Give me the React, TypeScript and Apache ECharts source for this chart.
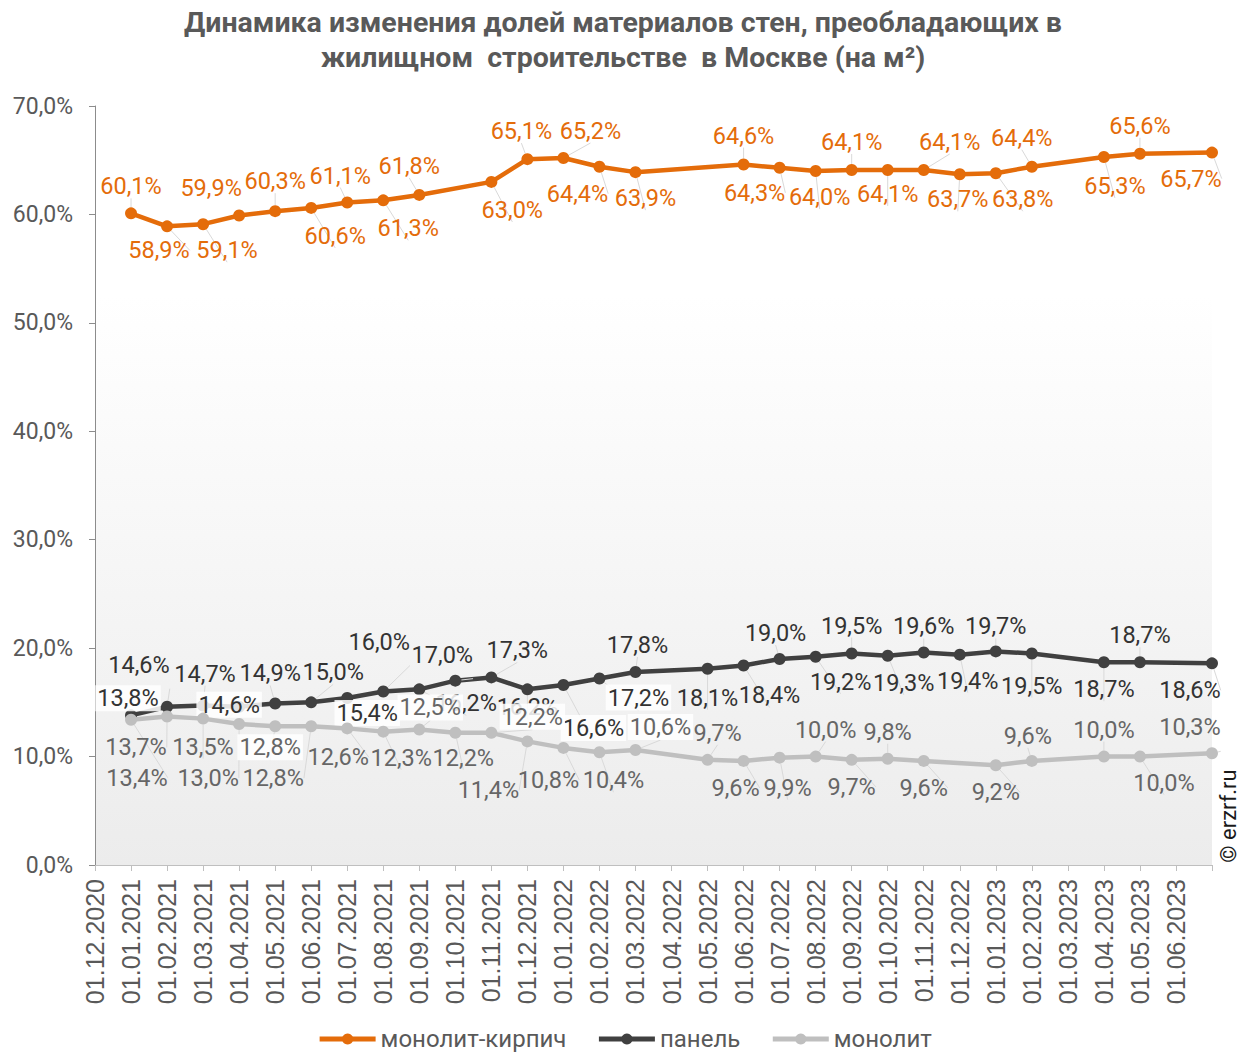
import React, { useEffect, useRef } from 'react';
import * as echarts from 'echarts';

const categories = [
  '01.12.2020', '01.01.2021', '01.02.2021', '01.03.2021', '01.04.2021', '01.05.2021', '01.06.2021',
  '01.07.2021', '01.08.2021', '01.09.2021', '01.10.2021', '01.11.2021', '01.12.2021', '01.01.2022',
  '01.02.2022', '01.03.2022', '01.04.2022', '01.05.2022', '01.06.2022', '01.07.2022', '01.08.2022',
  '01.09.2022', '01.10.2022', '01.11.2022', '01.12.2022', '01.01.2023', '01.02.2023', '01.03.2023',
  '01.04.2023', '01.05.2023', '01.06.2023', '01.07.2023',
];

const seriesNames = ['монолит-кирпич', 'панель', 'монолит'];

const monolitBrick = [
  null, 60.1, 58.9, 59.1, 59.9, 60.3, 60.6, 61.1, 61.3, 61.8, null, 63.0, 65.1, 65.2, 64.4, 63.9,
  null, null, 64.6, 64.3, 64.0, 64.1, 64.1, 64.1, 63.7, 63.8, 64.4, null, 65.3, 65.6, null, 65.7,
];

const panel = [
  null, 13.8, 14.6, 14.7, 14.6, 14.9, 15.0, 15.4, 16.0, 16.2, 17.0, 17.3, 16.2, 16.6, 17.2, 17.8,
  null, 18.1, 18.4, 19.0, 19.2, 19.5, 19.3, 19.6, 19.4, 19.7, 19.5, null, 18.7, 18.7, null, 18.6,
];

const monolit = [
  null, 13.4, 13.7, 13.5, 13.0, 12.8, 12.8, 12.6, 12.3, 12.5, 12.2, 12.2, 11.4, 10.8, 10.4, 10.6,
  null, 9.7, 9.6, 9.9, 10.0, 9.7, 9.8, 9.6, null, 9.2, 9.6, null, 10.0, 10.0, null, 10.3,
];

// label placement (pixel offsets from each point), kept apart from the data
const brickLabelOffsets: (number[] | null)[] = [
  null, [0, -27], [-8, 24], [24, 26], [-28, -28], [0, -30], [24, 28], [-7, -27], [25, 28], [-10, -29],
  null, [21, 28], [-6, -28], [27, -27], [-22, 27], [10, 26], null, null, [0, -29], [-25, 25], [4, 26],
  [0, -28], [0, 24], [26, -28], [-2, 25], [27, 26], [-10, -29], null, [11, 29], [0, -28], null, [-21, 26],
];
const panelLabelOffsets: (number[] | null)[] = [
  null, [-3, -17], [-28, -42], [2, -32], [-10, -2], [-5, -30], [22, -30], [20, 15], [-4, -50], [47, 14],
  [-13, -26], [26, -27], [0, 18], [30, 43], [39, 19], [2, -27], null, [0, 29], [26, 30], [-4, -26],
  [25, 25], [0, -28], [16, 27], [0, -26], [8, 26], [0, -25], [0, 32], null, [0, 27], [0, -27], null, [-22, 27],
];
const monolitLabelOffsets: (number[] | null)[] = [
  null, [6, 58], [-31, 31], [0, 28], [-31, 54], [-5, 21], [-38, 52], [-9, 29], [18, 26], [11, -22],
  [8, 25], [41, -16], [-39, 49], [-15, 32], [14, 28], [25, -23], null, [10, -27], [-8, 27], [8, 30],
  [10, -27], [0, 27], [0, -27], [0, 27], null, [0, 27], [-4, -25], null, [0, -27], [24, 26], null, [-22, -26],
];
const panelBoxed = [1, 4, 7, 13, 14];
const monolitBoxed = [5, 9, 11, 15];

const ORANGE = '#E46C0A';
const DARK = '#404040';
const GREY = '#BFBFBF';

const fmt = (v: number) => v.toFixed(1).replace('.', ',') + '%';

function buildData(values: (number | null)[], offsets: (number[] | null)[], boxed: number[]) {
  return values.map((v, i) => {
    if (v == null) return null;
    const label: any = { offset: offsets[i] || [0, -26] };
    if (boxed.indexOf(i) >= 0) {
      label.backgroundColor = 'rgba(255,255,255,0.85)';
      label.padding = [1, 2];
    }
    return { value: v, label };
  });
}

function makeSeries(name: string, values: (number | null)[], offsets: (number[] | null)[], boxed: number[], color: string, labelColor: string, z: number) {
  return {
    name,
    type: 'line',
    data: buildData(values, offsets, boxed),
    connectNulls: true,
    symbol: 'circle',
    symbolSize: 12,
    z,
    lineStyle: { color, width: 4.5 },
    itemStyle: { color },
    label: {
      show: true,
      position: 'inside',
      formatter: (p: any) => fmt(p.value),
      color: labelColor,
      fontSize: 23.5,
      fontFamily: 'Roboto',
      textBorderWidth: 0,
      textBorderColor: 'transparent',
    },
    labelLine: { show: true, lineStyle: { color: '#d9d9d9', width: 1 } },
    emphasis: { disabled: true },
  };
}

export default function App() {
  const ref = useRef<HTMLDivElement>(null);
  useEffect(() => {
    if (!ref.current) return;
    const chart = echarts.init(ref.current, undefined, { renderer: 'svg' });
    chart.setOption({
      animation: false,
      backgroundColor: '#ffffff',
      title: {
        text: 'Динамика изменения долей материалов стен, преобладающих в\nжилищном  строительстве  в Москве (на м²)',
        left: 618,
        textAlign: 'center',
        top: 0,
        padding: [5, 5],
        textStyle: {
          fontSize: 28.5,
          fontWeight: 'bold',
          color: '#595959',
          fontFamily: 'Roboto',
          lineHeight: 35,
        },
      },
      grid: {
        left: 95,
        right: 37,
        top: 106,
        bottom: 187,
        show: true,
        borderWidth: 0,
        backgroundColor: new echarts.graphic.LinearGradient(0, 0, 0, 1, [
          { offset: 0, color: '#ffffff' },
          { offset: 0.25, color: '#ffffff' },
          { offset: 1, color: '#ececec' },
        ]),
      },
      legend: {
        data: seriesNames,
        left: 'center',
        top: 1022,
        itemWidth: 56,
        itemHeight: 14,
        itemGap: 30,
        lineStyle: { width: 5 },
        textStyle: { fontSize: 24, color: '#595959', fontFamily: 'Roboto' },
      },
      xAxis: {
        type: 'category',
        data: categories,
        boundaryGap: false,
        axisLine: { lineStyle: { color: '#bfbfbf', width: 1 } },
        axisTick: { show: true, interval: 0, length: 6, lineStyle: { color: '#bfbfbf' } },
        axisLabel: {
          interval: 0,
          rotate: 90,
          margin: 14,
          fontSize: 25,
          fontFamily: "'Liberation Sans', Arial, sans-serif",
          color: '#595959',
          formatter: (v: string, i: number) => (i === categories.length - 1 ? '' : v),
        },
        splitLine: { show: false },
      },
      yAxis: {
        type: 'value',
        min: 0,
        max: 70,
        interval: 10,
        splitLine: { show: false },
        axisLine: { show: true, lineStyle: { color: '#8c8c8c' } },
        axisTick: { show: true, length: 6, lineStyle: { color: '#8c8c8c' } },
        axisLabel: {
          formatter: (v: number) => fmt(v),
          fontSize: 23,
          color: '#595959',
          fontFamily: 'Roboto',
          margin: 22,
        },
      },
      graphic: [
        {
          type: 'text',
          x: 1228,
          y: 816,
          rotation: Math.PI / 2,
          style: {
            text: '© erzrf.ru',
            fontSize: 22,
            fill: '#1a1a1a',
            fontFamily: 'Roboto',
            align: 'center',
            verticalAlign: 'middle',
          },
        },
      ],
      series: [
        makeSeries(seriesNames[0], monolitBrick, brickLabelOffsets, [], ORANGE, ORANGE, 3),
        makeSeries(seriesNames[1], panel, panelLabelOffsets, panelBoxed, DARK, '#333333', 4),
        makeSeries(seriesNames[2], monolit, monolitLabelOffsets, monolitBoxed, GREY, '#666666', 5),
      ],
    });
    return () => chart.dispose();
  }, []);
  return (
    <div
      ref={ref}
      style={{ position: 'absolute', left: 0, top: 0, width: 1249, height: 1052, background: '#fff' }}
    />
  );
}
